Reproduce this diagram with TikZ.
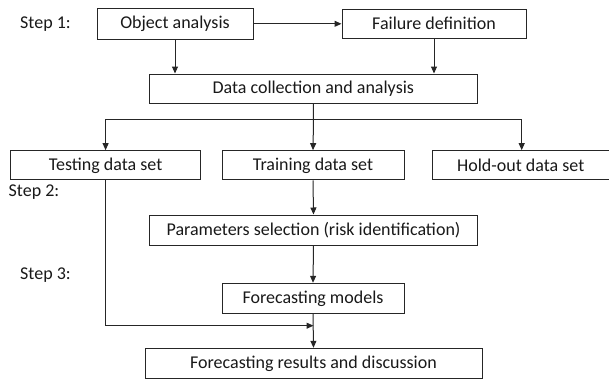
\documentclass[tikz,border=0pt]{standalone}
\usepackage{fontspec}
\setmainfont{Carlito}
\usetikzlibrary{arrows.meta}
\begin{document}
\begin{tikzpicture}[x=1pt,y=-1pt,
  every node/.style={font=\fontsize{18}{21}\selectfont, text=black!90},
  stepbox/.style={draw=black!85, line width=1pt, inner sep=0pt, anchor=center, fill=white},
  steplabel/.style={anchor=west, inner sep=0pt},
  link/.style={draw=black!85, line width=1pt},
  arr/.style={link, -{Triangle[length=7pt,width=6pt]}}]
\useasboundingbox (0,0) rectangle (609,380);
\begin{scope}
\clip (0,0) rectangle (609,380);

% step labels
\node[steplabel] (s1) at (20,24) {Step 1:};
\node[steplabel] (s2) at (8.5,191.7) {Step 2:};
\node[steplabel] (s3) at (20,275) {Step 3:};

% boxes
\node[stepbox, minimum width=156pt, minimum height=31pt] (obj)  at (175,23.8) {Object analysis};
\node[stepbox, minimum width=184pt, minimum height=29pt] (fail) at (434,23.8) {Failure definition};
\node[stepbox, minimum width=327.5pt, minimum height=29pt] (data) at (313.25,88.5) {Data collection and analysis};
\node[stepbox, minimum width=190pt, minimum height=29.3pt] (test) at (105.6,165.3) {Testing data set};
\node[stepbox, minimum width=182pt, minimum height=29.3pt] (train) at (313,165.3) {Training data set};
\node[stepbox, minimum width=178pt, minimum height=29.3pt] (hold) at (521.7,165.3) {\hspace*{-2pt}Hold-out data set};
\node[stepbox, minimum width=328.5pt, minimum height=30pt] (param) at (313.5,230) {Parameters selection (risk identification)};
\node[stepbox, minimum width=182pt, minimum height=30pt] (models) at (313,298.3) {Forecasting models};
\node[stepbox, minimum width=337pt, minimum height=30pt] (res) at (313.5,363.3) {Forecasting results and discussion};

% junction points
\coordinate (split) at (313.5,119.3);
\coordinate (merge) at (313.5,325.7);

% connectors
\draw[arr] (obj.east) -- (obj.east -| fail.west);
\draw[arr] (obj.south) -- (obj.south |- data.north);
\draw[arr] (fail.south) -- (fail.south |- data.north);
\draw[link] (data.south) -- (split);
\draw[arr] (split) -| (test.north);
\draw[arr] (split) -| (hold.north);
\draw[arr] (split) -- (train.north);
\draw[arr] (train.south) -- (param.north);
\draw[arr] (param.south) -- (models.north);
\draw[arr] (models.south) -- (res.north);
\draw[arr] (test.south) |- (merge);
\end{scope}
\end{tikzpicture}
\end{document}
